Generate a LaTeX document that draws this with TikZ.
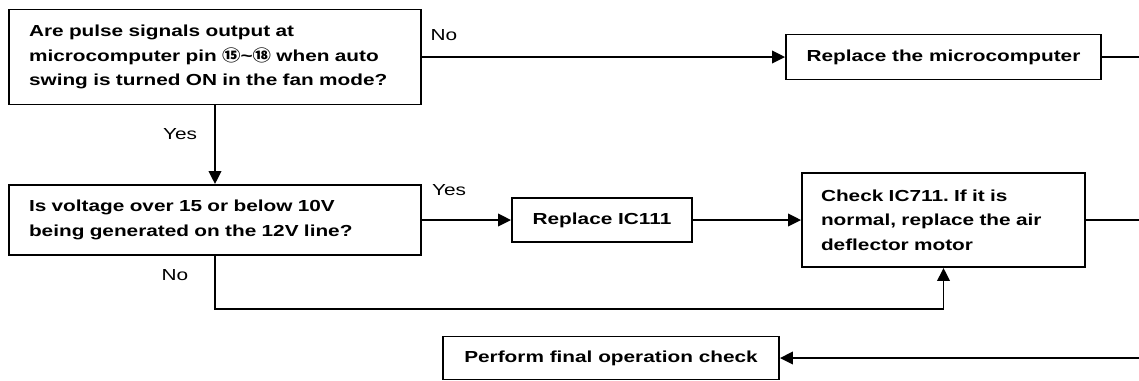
\documentclass[tikz,border=0pt]{standalone}
\usepackage{fontspec}
\setmainfont{Liberation Sans}[FakeStretch=1.3]
\newfontfamily\circfont{Noto Sans CJK SC}[FakeStretch=1.15]
\usetikzlibrary{arrows.meta,positioning,calc}
\definecolor{inkblack}{RGB}{0,0,0}
\newcommand{\chartfont}{\fontsize{9.1}{13.9}\selectfont}
\frenchspacing
\tikzset{
  querybox/.style={rectangle, draw=inkblack, line width=1.1pt, align=left,
    font=\chartfont\bfseries, inner xsep=0.4cm, text width=7.44cm},
  actionbox/.style={rectangle, draw=inkblack, line width=1.1pt, align=center,
    font=\chartfont\bfseries, inner xsep=0pt, minimum height=0.88cm},
  checkbox/.style={rectangle, draw=inkblack, line width=1.1pt, align=left,
    font=\chartfont\bfseries, inner xsep=0.38cm, text width=4.9cm,
    minimum height=1.88cm},
  answer/.style={font=\chartfont, inner sep=0pt},
  flow/.style={-{Triangle[length=2.6mm,width=2.5mm]}, line width=1.1pt, draw=inkblack},
  plainflow/.style={line width=1.1pt, draw=inkblack}
}

\begin{document}
\begin{tikzpicture}[x=0.02cm, y=-0.02cm]
  \useasboundingbox (0,0) rectangle (1139,380);

  % --- questions ---
  \node[querybox, minimum height=1.9cm] (pulsecheck) at (215,57)
       {Are pulse signals output at\\
        microcomputer pin {\circfont ⑮}\textasciitilde{\circfont ⑱} when auto\\
        swing is turned ON in the fan mode?};
  \node[querybox, minimum height=1.4cm] (voltcheck) at (215,220)
       {Is voltage over 15 or below 10V\\ being generated on the 12V line?};

  % --- actions ---
  \node[actionbox, minimum width=6.3cm, minimum height=0.9cm] (replacemicro) at (943.5,57)
       {Replace the microcomputer};
  \node[actionbox, minimum width=3.6cm] (replaceic) at (602,220) {Replace IC111};
  \node[checkbox] (checkic) at (943.5,220)
       {Check IC711. If it is\\ normal, replace the air\\ deflector motor};
  \node[actionbox, minimum width=6.72cm, minimum height=0.86cm] (finalcheck) at (611,358)
       {Perform final operation check};

  % --- free ends at the right margin ---
  \coordinate (microexit) at (1139,57);
  \coordinate (checkexit) at (1139,220);
  \coordinate (finalentry) at (1139,358);
  \coordinate (nocorner) at (943.5,309);

  % --- answers ---
  \node[answer] (nopulse) at (444,35) {No};
  \node[answer] (yespulse) at (180,134) {Yes};
  \node[answer] (yesvolt) at (449,190) {Yes};
  \node[answer] (novolt) at (175,275) {No};

  % ---------------- edges ----------------
  \draw[flow] (pulsecheck.east) -- (replacemicro.west);
  \draw[plainflow] (replacemicro.east) -- (microexit);
  \draw[flow] (pulsecheck.south) -- (voltcheck.north);

  \draw[flow] (voltcheck.east) -- (replaceic.west);
  \draw[flow] (replaceic.east) -- (checkic.west);
  \draw[plainflow] (checkic.east) -- (checkexit);

  % no fault on the 12V line
  \draw[flow] (voltcheck.south) |- (nocorner) -- (checkic.south);

  \draw[flow] (finalentry) -- (finalcheck.east);

\end{tikzpicture}
\end{document}
